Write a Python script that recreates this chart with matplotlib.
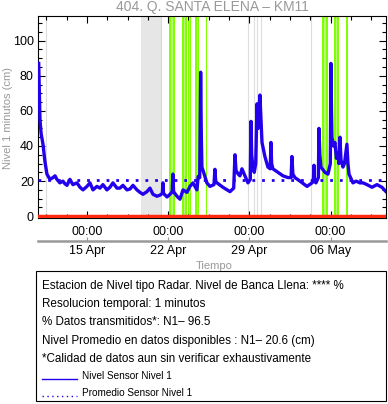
import numpy as np
import pandas as pd
import matplotlib
matplotlib.use("Agg")
import matplotlib.pyplot as plt
import matplotlib.dates as mdates
from matplotlib.ticker import FixedLocator, MultipleLocator
from matplotlib.lines import Line2D
from matplotlib.patches import Rectangle

plt.rcParams["font.family"] = ["Liberation Sans", "DejaVu Sans"]

# days since 2024-04-10 00:00 and level in cm
dias = [0.84, 0.90, 0.95, 1.05, 1.21, 1.38, 1.55, 1.81, 2.07, 2.25, 2.41, 2.67, 2.93, 3.10,
        3.28, 3.53, 3.79, 4.14, 4.40, 4.66, 5.00, 5.26, 5.52, 5.86, 6.12, 6.38, 6.72, 6.98,
        7.24, 7.59, 7.84, 8.10, 8.45, 8.71, 8.97, 9.31, 9.57, 9.83, 10.17, 10.43, 10.69,
        11.03, 11.29, 11.50, 11.55, 11.60, 11.90, 12.16, 12.35, 12.41, 12.47, 12.76, 13.02,
        13.28, 13.62, 13.88, 14.14, 14.48, 14.59, 14.72, 14.80, 14.86, 14.91, 15.03, 15.34,
        15.60, 15.95, 16.03, 16.10, 16.21, 16.72, 17.33, 17.65, 17.76, 17.85, 18.04, 18.19,
        18.36, 18.62, 18.88, 19.08, 19.14, 19.20, 19.31, 19.42, 19.55, 19.66, 19.75, 19.91,
        20.00, 20.09, 20.34, 20.60, 20.80, 20.86, 20.92, 21.03, 21.47, 21.90, 22.33, 22.60,
        22.67, 22.75, 22.93, 23.36, 23.97, 24.40, 24.52, 24.57, 24.62, 24.74, 24.95, 25.00,
        25.08, 25.17, 25.52, 25.78, 25.98, 26.03, 26.08, 26.12, 26.25, 26.38, 26.50, 26.64,
        26.72, 26.81, 26.90, 27.07, 27.20, 27.41, 27.50, 27.59, 27.93, 28.20, 28.53, 28.80,
        29.14, 29.57, 30.00, 30.43, 30.78]
nivel = [87, 70, 55, 47, 41, 31, 24, 21, 22, 23, 21, 19, 20, 18.5,
         17.6, 21, 18, 19, 16.5, 15, 17, 19, 15, 17, 16, 18, 15, 16.5,
         19, 16, 16, 17.6, 15, 15.5, 17.6, 15, 13.6, 12.5, 14, 16, 12.5,
         11.4, 12, 13, 19, 13, 11, 12.5, 14, 24, 14, 11.4, 9.7,
         15, 13.6, 17, 19, 15, 22.7, 22, 82, 45, 28, 25.6, 19,
         17, 18, 26.7, 20, 19, 16.5, 14, 16, 35, 26, 24, 23,
         27, 23, 19, 21, 54, 35, 28, 25, 30, 64, 50, 69,
         55, 42, 34, 28, 27, 42, 30, 27, 25, 23, 22, 22,
         34, 24, 22, 20, 17, 19, 20, 29, 20, 19, 22, 50,
         35, 28, 25, 24, 30, 87, 60, 45, 40, 42, 33, 36,
         30, 45, 32, 28, 30, 41, 30, 24, 19, 20, 19, 19,
         18, 16.5, 18, 16.5, 14]
promedio = 20.6

# periods with rain (green) and without data (gray), in days since 2024-04-10
lluvia_ini = [11.38, 12.09, 13.19, 13.75, 14.34, 15.24, 25.28, 26.29, 27.35]
lluvia_fin = [11.47, 12.59, 13.66, 13.97, 14.68, 15.33, 25.78, 26.72, 27.48]
sin_datos_ini = [9.66]
sin_datos_fin = [11.38]
marcas_grises = [1.44, 18.91, 19.42, 19.68, 20.0, 24.35]

inicio = pd.Timestamp("2024-04-10")
fechas = inicio + pd.to_timedelta(dias, unit="D")
d0 = mdates.date2num(inicio)

fig = plt.figure(figsize=(3.88, 4.04), dpi=100)
ax = fig.add_axes([38 / 388, 1 - 218 / 404, 348 / 388, 202 / 404])

for a, b in zip(sin_datos_ini, sin_datos_fin):
    ax.axvspan(d0 + a, d0 + b, color="#e6e6e6", lw=0, zorder=0)
for a, b in zip(lluvia_ini, lluvia_fin):
    ax.axvspan(d0 + a, d0 + b, color="#7fff00", lw=0, zorder=1)
    ax.axvspan(d0 + a + (b - a) * 0.35, d0 + a + (b - a) * 0.6, color="#b8f57a", lw=0, zorder=1)
for m in marcas_grises:
    ax.axvline(d0 + m, color="#dddddd", lw=0.8, zorder=0)

ax.axhline(0, color="#ff2a10", lw=2.5, zorder=3)
ax.plot(fechas, nivel, color="#2200ee", lw=2.4, zorder=4)
ax.axhline(promedio, color="#2200ee", lw=2, ls=(0, (1, 2.5)), zorder=5)

ax.set_xlim(d0 + 0.78, d0 + 30.78)
ax.set_ylim(-1, 114)

mayores = [d0 + 5 + 7 * k for k in range(4)]
menores = np.arange(d0 + 5 - 1.75 * 2, d0 + 31, 1.75)
ax.xaxis.set_major_locator(FixedLocator(mayores))
ax.xaxis.set_minor_locator(FixedLocator(menores))
ax.xaxis.set_major_formatter(mdates.DateFormatter("%H:%M"))
ax.yaxis.set_major_locator(MultipleLocator(20))
ax.yaxis.set_minor_locator(MultipleLocator(5))
ax.tick_params(which="both", direction="in", top=True, right=True, labelsize=9, width=0.8)
ax.tick_params(which="major", length=5)
ax.tick_params(which="minor", length=3)
ax.tick_params(axis="x", pad=6)
ax.tick_params(axis="y", pad=3)
for s in ax.spines.values():
    s.set_linewidth(0.8)

sec = ax.secondary_xaxis(-0.113)
sec.xaxis.set_major_locator(FixedLocator(mayores))
sec.xaxis.set_major_formatter(mdates.DateFormatter("%d %b"))
sec.spines["bottom"].set_color("#999999")
sec.spines["bottom"].set_linewidth(1.8)
sec.tick_params(direction="in", length=3, color="#999999", labelsize=9, pad=3)

fig.text(8 / 388, 1 - 118 / 404, "Nivel 1 minutos (cm)", color="#999999", fontsize=8,
         rotation=90, ha="center", va="center")
fig.text(214 / 388, 1 - 266 / 404, "Tiempo", color="#999999", fontsize=8, ha="center", va="center")
fig.text(212 / 388, 1 - 7 / 404, "404. Q. SANTA ELENA \u2013 KM11", color="#999999", fontsize=10,
         ha="center", va="center")

# info box
fig.patches.append(Rectangle((36 / 388, 1 - 401 / 404), 350 / 388, 130 / 404, transform=fig.transFigure,
                             fill=False, ec="black", lw=0.8))
lineas = ["Estacion de Nivel tipo Radar. Nivel de Banca Llena: **** %",
          "Resolucion temporal: 1 minutos",
          "% Datos transmitidos*: N1\u2013 96.5",
          "Nivel Promedio en datos disponibles : N1\u2013 20.6 (cm)",
          "*Calidad de datos aun sin verificar exhaustivamente"]
ys = [286, 304, 322, 341, 359]
for t, y in zip(lineas, ys):
    fig.text(42 / 388, 1 - y / 404, t, fontsize=8.4, ha="left", va="center")

fig.lines.append(Line2D([42 / 388, 77 / 388], [1 - 379 / 404] * 2, transform=fig.transFigure,
                        color="#2200ee", lw=1))
fig.lines.append(Line2D([42 / 388, 77 / 388], [1 - 396 / 404] * 2, transform=fig.transFigure,
                        color="#2200ee", lw=1, ls=(0, (1, 2.5))))
fig.text(82 / 388, 1 - 376 / 404, "Nivel Sensor Nivel 1", fontsize=7.2, ha="left", va="center")
fig.text(82 / 388, 1 - 393 / 404, "Promedio Sensor Nivel 1", fontsize=7.2, ha="left", va="center")

fig.savefig("out.png", dpi=100)
